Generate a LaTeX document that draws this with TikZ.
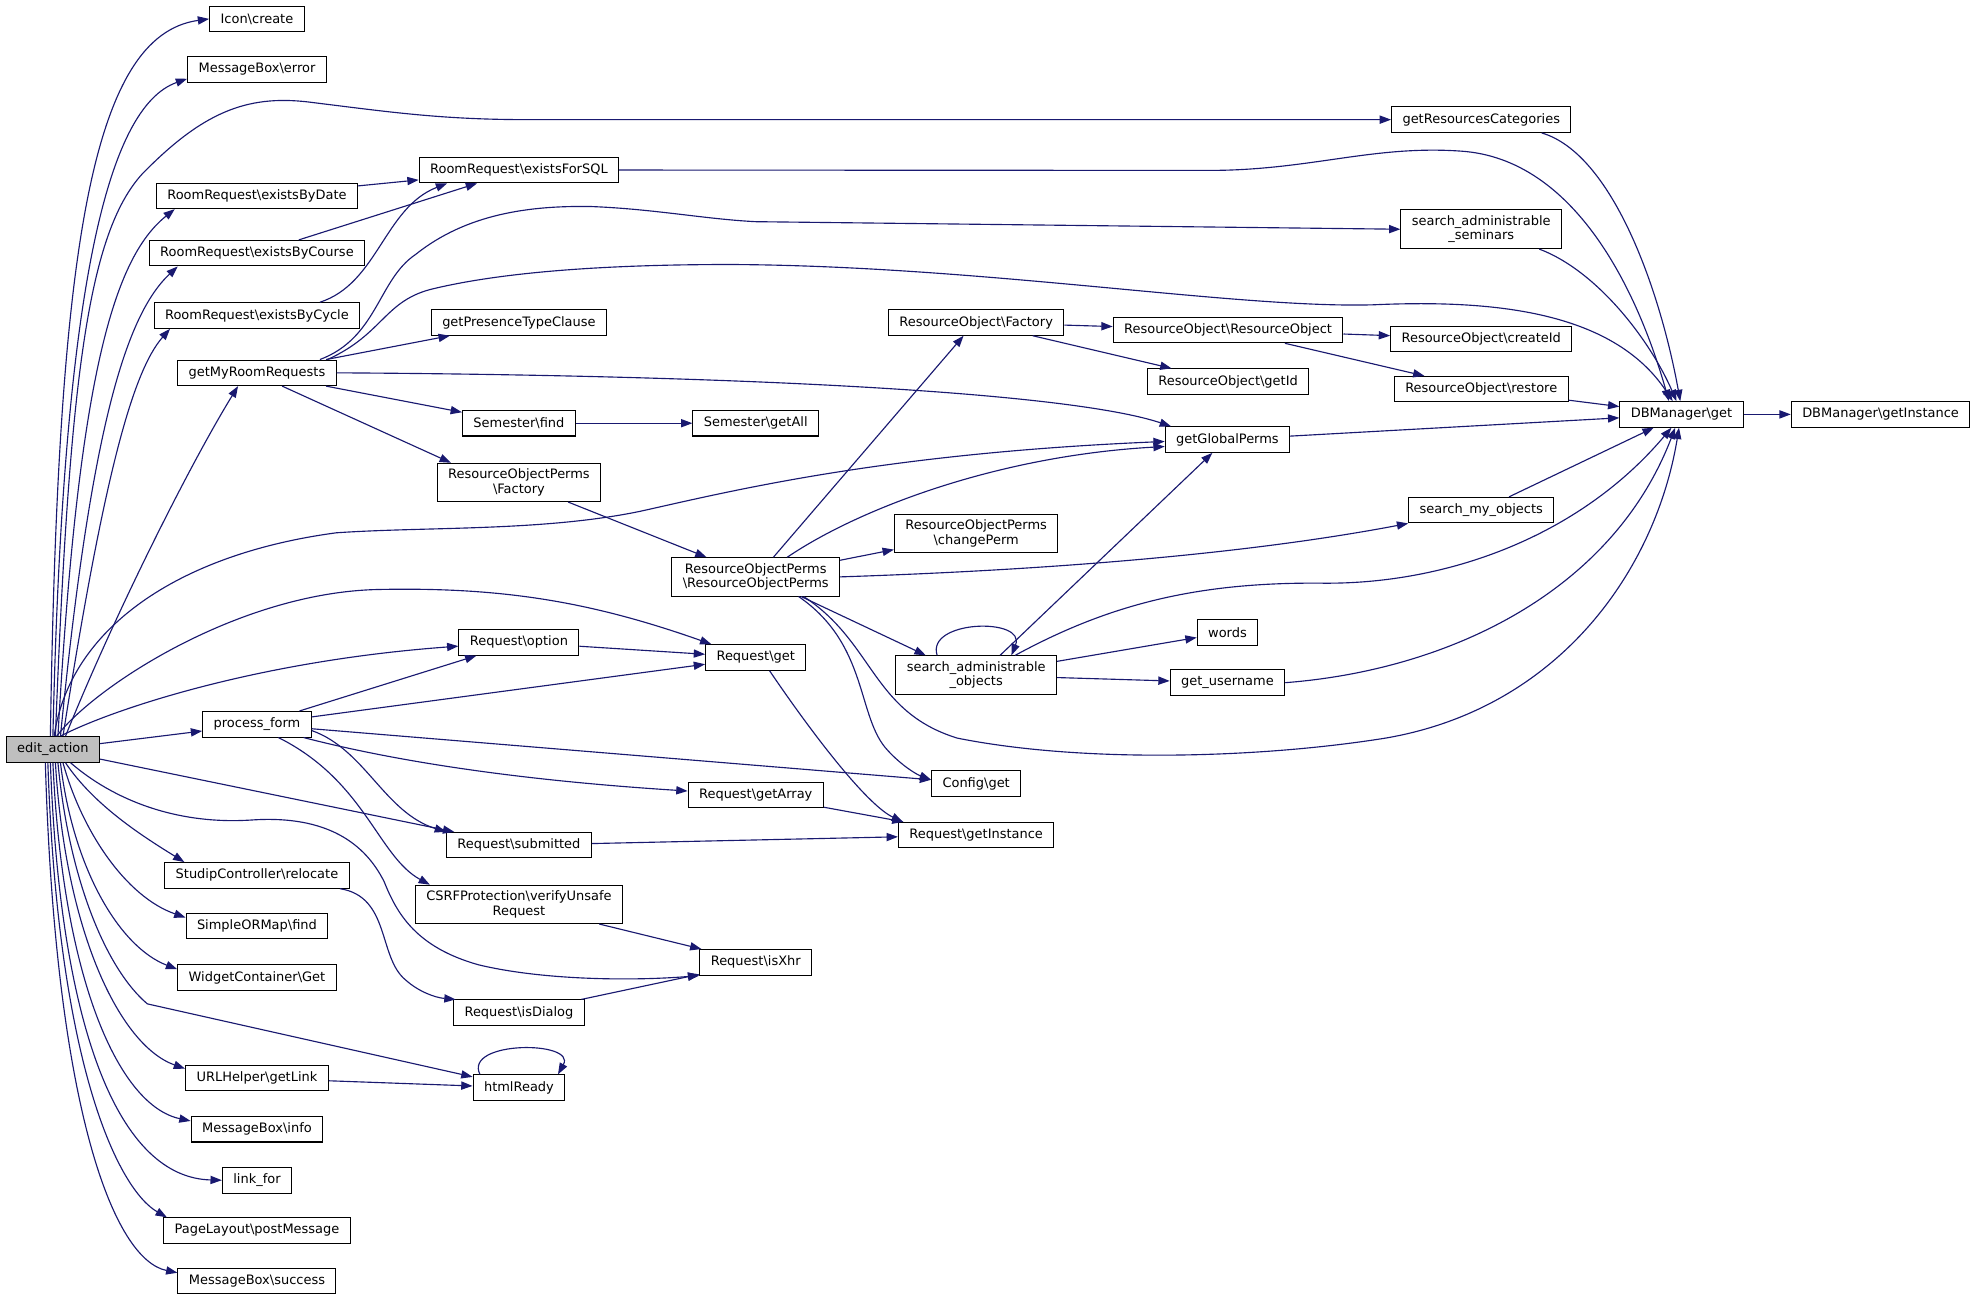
\documentclass[tikz,border=0pt]{standalone}
\usepackage{fontspec}
\setmainfont{DejaVu Sans}
\usetikzlibrary{arrows.meta}
\definecolor{callblue}{HTML}{191970}
\definecolor{rootgray}{HTML}{BFBFBF}
\newcommand{\bsl}{\textbackslash}
\tikzset{
	fn/.style={draw=black, line width=0.8pt, fill=white, font=\fontsize{10.3}{11.4}\selectfont, inner xsep=8.7pt, inner ysep=4.5pt, minimum height=20.3pt, align=center},
	root/.style={fn, fill=rootgray},
	call/.style={draw=callblue, line width=0.9pt, -{Triangle[length=9pt,width=6.5pt]}}
}

\begin{document}
\begin{tikzpicture}[x=1pt, y=-1pt]
			%%%%% START %%%%%
			
			\fill[white] (0, 0) rectangle (1568, 1032);
			
			% first rank
			\node[root] (e) at (42, 595) {edit\_action};
			
			% second rank
			\node[fn] (icon) at (204, 15) {Icon\bsl create};
			\node[fn] (msgerr) at (204, 55) {MessageBox\bsl error};
			\node[fn] (rrdate) at (204, 155.5) {RoomRequest\bsl existsByDate};
			\node[fn] (rrcourse) at (204, 201) {RoomRequest\bsl existsByCourse};
			\node[fn] (rrcycle) at (204, 250.5) {RoomRequest\bsl existsByCycle};
			\node[fn] (mrr) at (204, 296) {getMyRoomRequests};
			\node[fn] (pform) at (204, 575) {process\_form};
			\node[fn] (relocate) at (204, 695) {StudipController\bsl relocate};
			\node[fn] (ormfind) at (204, 735) {SimpleORMap\bsl find};
			\node[fn] (wcget) at (204, 776) {WidgetContainer\bsl Get};
			\node[fn] (getlink) at (204, 856) {URLHelper\bsl getLink};
			\node[fn] (msginfo) at (204, 896.5) {MessageBox\bsl info};
			\node[fn] (linkfor) at (204, 937) {link\_for};
			\node[fn] (postmsg) at (204, 977) {PageLayout\bsl postMessage};
			\node[fn] (msgsucc) at (204, 1017) {MessageBox\bsl success};
			
			% third rank
			\node[fn] (rrsql) at (412, 135) {RoomRequest\bsl existsForSQL};
			\node[fn] (ptc) at (412, 256) {getPresenceTypeClause};
			\node[fn] (semfind) at (412, 336) {Semester\bsl find};
			\node[fn] (ropfac) at (412, 383) {ResourceObjectPerms\\\bsl Factory};
			\node[fn] (reqopt) at (412, 510) {Request\bsl option};
			\node[fn] (reqsub) at (412, 671) {Request\bsl submitted};
			\node[fn] (csrf) at (412, 718) {CSRFProtection\bsl verifyUnsafe\\Request};
			\node[fn] (isdialog) at (412, 804) {Request\bsl isDialog};
			\node[fn] (htmlready) at (412, 863.5) {htmlReady};
			
			% fourth rank
			\node[fn] (semall) at (600, 336) {Semester\bsl getAll};
			\node[fn] (rop) at (600, 458) {ResourceObjectPerms\\\bsl ResourceObjectPerms};
			\node[fn] (reqget) at (600, 522) {Request\bsl get};
			\node[fn] (getarray) at (600, 631) {Request\bsl getArray};
			\node[fn] (isxhr) at (600, 764) {Request\bsl isXhr};
			
			% fifth rank
			\node[fn] (rofac) at (775, 256) {ResourceObject\bsl Factory};
			\node[fn] (chperm) at (775, 423.5) {ResourceObjectPerms\\\bsl changePerm};
			\node[fn] (sao) at (775, 536) {search\_administrable\\\_objects};
			\node[fn] (cfgget) at (775, 622) {Config\bsl get};
			\node[fn] (getinst) at (775, 663) {Request\bsl getInstance};
			
			% sixth rank
			\node[fn] (roro) at (975, 262) {ResourceObject\bsl ResourceObject};
			\node[fn] (roid) at (975, 303) {ResourceObject\bsl getId};
			\node[fn] (gperms) at (974.5, 349) {getGlobalPerms};
			\node[fn] (words) at (974.5, 502) {words};
			\node[fn] (username) at (974.5, 542) {get\_username};
			
			% seventh rank
			\node[fn] (grc) at (1176, 95) {getResourcesCategories};
			\node[fn] (sas) at (1176, 182) {search\_administrable\\\_seminars};
			\node[fn] (createid) at (1176, 269) {ResourceObject\bsl createId};
			\node[fn] (restore) at (1176, 309) {ResourceObject\bsl restore};
			\node[fn] (smo) at (1176, 405) {search\_my\_objects};
			
			% last ranks
			\node[fn] (dbget) at (1335, 329) {DBManager\bsl get};
			\node[fn] (dbinst) at (1493, 329) {DBManager\bsl getInstance};
			
			% calls out of edit_action, upwards
			\draw[call] ([xshift=-2pt]e.north) .. controls (46, 200) and (72, 28) .. (icon.west);
			\draw[call] (e.north) .. controls (50, 230) and (85, 85) .. ([yshift=3pt]msgerr.south west);
			\draw[call] ([xshift=2pt]e.north) .. controls (55, 300) and (70, 185) .. (113, 138) .. controls (160, 90) and (195, 75) .. (245, 81) .. controls (310, 89) and (350, 95) .. (420, 95) -- (grc.west);
			\draw[call] ([xshift=4pt]e.north) .. controls (62, 300) and (90, 205) .. ([xshift=15pt]rrdate.south west);
			\draw[call] ([xshift=6pt]e.north) .. controls (72, 340) and (100, 250) .. ([xshift=23pt]rrcourse.south west);
			\draw[call] ([xshift=8pt]e.north) .. controls (82, 380) and (105, 295) .. ([xshift=13pt]rrcycle.south west);
			\draw[call] ([xshift=10pt]e.north) .. controls (90, 490) and (150, 370) .. ([xshift=-15pt]mrr.south);
			\draw[call] ([xshift=1pt]e.north) .. controls (55, 500) and (140, 440) .. (267, 423) .. controls (340, 418) and (430, 422) .. (508, 406) .. controls (580, 390) and (700, 360) .. ([yshift=-1.5pt]gperms.west);
			\draw[call] ([xshift=3pt]e.north) .. controls (75, 545) and (190, 470) .. (301, 468) .. controls (400, 466) and (470, 478) .. ([xshift=5pt]reqget.north west);
			\draw[call] ([xshift=6pt]e.north) .. controls (85, 565) and (200, 525) .. ([yshift=-3pt]reqopt.west);
			\draw[call] (e) -- (pform);
			\draw[call] (e) -- (reqsub);
			
			% calls out of edit_action, downwards
			\draw[call] ([xshift=14pt]e.south) .. controls (90, 635) and (140, 655) .. (200, 651) .. controls (260, 647) and (290, 670) .. (305, 700) .. controls (315, 725) and (330, 752) .. (380, 766) .. controls (430, 778) and (500, 779) .. (isxhr.south west);
			\draw[call] ([xshift=10pt]e.south) .. controls (75, 640) and (115, 665) .. ([xshift=16pt]relocate.north west);
			\draw[call] ([xshift=8pt]e.south) .. controls (65, 660) and (100, 712) .. ([yshift=-4pt]ormfind.north west);
			\draw[call] ([xshift=6pt]e.south) .. controls (58, 690) and (95, 752) .. ([yshift=-4pt]wcget.north west);
			\draw[call] ([xshift=4pt]e.south) .. controls (55, 700) and (85, 770) .. (117, 797) -- ([yshift=-2pt]htmlready.north west);
			\draw[call] ([xshift=2pt]e.south) .. controls (52, 740) and (95, 830) .. ([yshift=-3pt]getlink.north west);
			\draw[call] (e.south) .. controls (50, 780) and (95, 878) .. ([yshift=-4pt]msginfo.north west);
			\draw[call] ([xshift=-2pt]e.south) .. controls (48, 820) and (95, 935) .. (linkfor.west);
			\draw[call] ([xshift=-4pt]e.south) .. controls (46, 850) and (95, 945) .. ([xshift=3pt]postmsg.north west);
			\draw[call] ([xshift=-6pt]e.south) .. controls (44, 880) and (90, 1000) .. ([yshift=-4pt]msgsucc.north west);
			
			% room requests
			\draw[call] (rrdate) -- (rrsql);
			\draw[call] (rrcourse) -- (rrsql);
			\draw[call] ([xshift=50pt]rrcycle.north) .. controls (300, 225) and (305, 165) .. ([xshift=-57pt]rrsql.south);
			\draw[call] (rrsql.east) -- (960, 135.3) .. controls (1040, 135.3) and (1090, 115) .. (1160, 120) .. controls (1250, 126) and (1300, 230) .. ([xshift=-10pt]dbget.north);
			
			% getMyRoomRequests
			\draw[call] (mrr) -- (ptc);
			\draw[call] (mrr) -- (semfind);
			\draw[call] ([xshift=20pt]mrr.south) -- ([xshift=-54pt]ropfac.north);
			\draw[call] (mrr.east) .. controls (600, 298) and (850, 312) .. ([xshift=5pt]gperms.north west);
			\draw[call] ([xshift=50pt]mrr.north) .. controls (300, 268) and (300, 222) .. (330, 202) .. controls (370, 170) and (420, 163) .. (470, 164) .. controls (520, 166) and (560, 174) .. (600, 176) -- (sas.west);
			\draw[call] ([xshift=56pt]mrr.north) .. controls (305, 265) and (305, 238) .. (345, 229) .. controls (400, 216) and (480, 210) .. (580, 210) .. controls (780, 211) and (980, 245) .. (1090, 242) .. controls (1180, 238) and (1280, 245) .. ([xshift=-7pt]dbget.north);
			\draw[call] (semfind) -- (semall);
			\draw[call] (ropfac) -- (rop);
			
			% ResourceObjectPerms
			\draw[call] ([xshift=14pt]rop.north) -- ([xshift=-10pt]rofac.south);
			\draw[call] ([xshift=25pt]rop.north) .. controls (680, 405) and (790, 362) .. ([yshift=-5.5pt]gperms.west);
			\draw[call] (rop) -- (chperm);
			\draw[call] (rop.east) .. controls (850, 452) and (1000, 438) .. (smo.south west);
			\draw[call] ([xshift=36pt]rop.south) -- ([xshift=-40pt]sao.north);
			\draw[call] ([xshift=34pt]rop.south) .. controls (690, 512) and (680, 570) .. (705, 596) .. controls (716, 608) and (728, 615) .. ([yshift=3pt]cfgget.west);
			\draw[call] ([xshift=38pt]rop.south) .. controls (694, 510) and (692, 565) .. (760, 586) .. controls (860, 606) and (1000, 602) .. (1100, 586) .. controls (1240, 562) and (1315, 450) .. ([xshift=-2pt]dbget.south);
			
			% ResourceObject
			\draw[call] (rofac) -- (roro);
			\draw[call] (rofac) -- (roid);
			\draw[call] (roro) -- (createid);
			\draw[call] (roro) -- (restore);
			
			% DBManager
			\draw[call] ([xshift=48pt]grc.south) .. controls (1280, 122) and (1318, 230) .. ([xshift=-1pt]dbget.north);
			\draw[call] ([xshift=46pt]sas.south) .. controls (1268, 215) and (1310, 270) .. ([xshift=-4pt]dbget.north);
			\draw[call] (restore) -- (dbget);
			\draw[call] (gperms) -- (dbget);
			\draw[call] (smo) -- (dbget);
			\draw[call] (dbget) -- (dbinst);
			
			% search_administrable_objects
			\draw[call] ([xshift=-31pt]sao.north) .. controls (735, 492) and (815, 490) .. ([xshift=28pt]sao.north);
			\draw[call] ([xshift=19pt]sao.north) -- ([xshift=-12pt]gperms.south);
			\draw[call] ([xshift=31pt]sao.north) .. controls (880, 480) and (950, 462) .. (1050, 463) .. controls (1150, 464) and (1255, 425) .. ([xshift=-8pt]dbget.south);
			\draw[call] (sao) -- (words);
			\draw[call] (sao) -- (username);
			\draw[call] (username.east) .. controls (1150, 532) and (1280, 470) .. ([xshift=-5pt]dbget.south);
			
			% process_form
			\draw[call] (pform) -- (reqopt);
			\draw[call] (pform) -- (reqget);
			\draw[call] (reqopt) -- (reqget);
			\draw[call] (pform) -- (cfgget);
			\draw[call] ([xshift=37pt]pform.south) .. controls (320, 606) and (420, 620) .. ([yshift=3pt]getarray.west);
			\draw[call] ([yshift=-5pt]pform.east) .. controls (290, 595) and (305, 645) .. (reqsub.north west);
			\draw[call] ([xshift=17pt]pform.south) .. controls (290, 620) and (300, 680) .. ([xshift=12pt]csrf.north west);
			
			% Request
			\draw[call] ([xshift=11pt]reqget.south) .. controls (650, 590) and (690, 640) .. ([xshift=4pt]getinst.north west);
			\draw[call] (getarray) -- (getinst);
			\draw[call] (reqsub) -- (getinst);
			\draw[call] ([xshift=66pt]relocate.south) .. controls (310, 712) and (300, 760) .. (322, 778) .. controls (332, 787) and (345, 792) .. ([xshift=2pt]isdialog.north west);
			\draw[call] (isdialog) -- (isxhr);
			\draw[call] (csrf) -- (isxhr);
			
			% htmlReady
			\draw[call] (getlink) -- (htmlready);
			\draw[call] ([xshift=-31pt]htmlready.north) .. controls (368, 826) and (458, 826) .. ([xshift=31pt]htmlready.north);
			
			%%%%% END %%%%%
\end{tikzpicture}
\end{document}
